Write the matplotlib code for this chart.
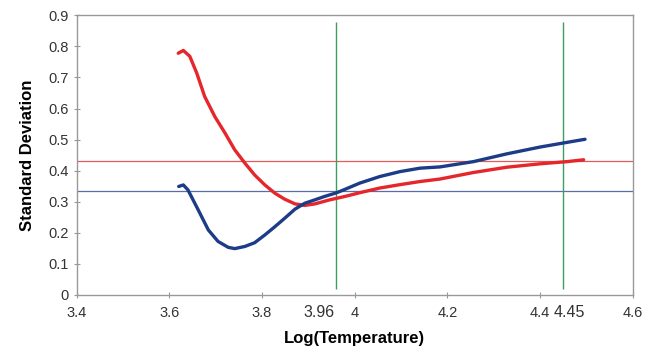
import matplotlib.pyplot as plt

# red curve
red_x = [3.619, 3.630, 3.644, 3.659, 3.676, 3.698, 3.720, 3.741, 3.763, 3.784, 3.806,
         3.828, 3.849, 3.871, 3.892, 3.914, 3.946, 3.979, 4.011, 4.054, 4.098, 4.141,
         4.184, 4.256, 4.328, 4.400, 4.458, 4.494]
red_y = [0.778, 0.787, 0.768, 0.714, 0.639, 0.574, 0.521, 0.467, 0.424, 0.386, 0.354,
         0.327, 0.308, 0.293, 0.288, 0.293, 0.306, 0.317, 0.329, 0.344, 0.355, 0.365,
         0.373, 0.394, 0.411, 0.422, 0.429, 0.435]

# blue curve
blue_x = [3.620, 3.630, 3.640, 3.662, 3.684, 3.705, 3.727, 3.741, 3.763, 3.784, 3.806,
          3.828, 3.849, 3.871, 3.892, 3.914, 3.935, 3.957, 3.968, 4.011, 4.054, 4.098,
          4.141, 4.184, 4.256, 4.328, 4.400, 4.458, 4.497]
blue_y = [0.349, 0.354, 0.338, 0.274, 0.209, 0.172, 0.153, 0.149, 0.156, 0.168, 0.193,
          0.220, 0.247, 0.276, 0.295, 0.306, 0.317, 0.327, 0.333, 0.360, 0.381, 0.397,
          0.408, 0.412, 0.429, 0.454, 0.476, 0.491, 0.501]

red_mean = 0.431
blue_mean = 0.333
markers_x = [3.96, 4.45]
marker_labels = ["3.96", "4.45"]

x_ticks = [3.4, 3.6, 3.8, 4.0, 4.2, 4.4, 4.6]
x_tick_labels = ["3.4", "3.6", "3.8", "4", "4.2", "4.4", "4.6"]
y_ticks = [0, 0.1, 0.2, 0.3, 0.4, 0.5, 0.6, 0.7, 0.8, 0.9]
y_tick_labels = ["0", "0.1", "0.2", "0.3", "0.4", "0.5", "0.6", "0.7", "0.8", "0.9"]


def main():
    plt.rcParams["font.family"] = ["Liberation Sans", "DejaVu Sans"]
    fig = plt.figure(figsize=(6.45, 3.57), dpi=100)
    ax = fig.add_axes([0.119, 0.174, 0.862, 0.783])

    ax.axhline(red_mean, color="#e35a5a", lw=0.9)
    ax.axhline(blue_mean, color="#5b6aa8", lw=0.9)
    for x in markers_x:
        ax.vlines(x, 0.02, 0.88, color="#3f9e5e", lw=1.0)

    ax.plot(red_x, red_y, color="#e5262b", lw=2.4,
            solid_capstyle="round", solid_joinstyle="round")
    ax.plot(blue_x, blue_y, color="#1c3c88", lw=2.4,
            solid_capstyle="round", solid_joinstyle="round")

    ax.set_xlim(3.4, 4.6)
    ax.set_ylim(0, 0.9)
    ax.set_xticks(x_ticks)
    ax.set_xticklabels(x_tick_labels)
    ax.set_yticks(y_ticks)
    ax.set_yticklabels(y_tick_labels)

    # marker labels sit a bit higher, 3.96 to the left of its line, 4.45 to the right
    trans = ax.get_xaxis_transform()
    ax.text(markers_x[0] - 0.003, -0.035, marker_labels[0], transform=trans,
            ha="right", va="top", fontsize=11.5, color="#333333")
    ax.text(markers_x[1] - 0.02, -0.035, marker_labels[1], transform=trans,
            ha="left", va="top", fontsize=11.5, color="#333333")

    ax.tick_params(axis="both", which="major", labelsize=10.5, color="#999999",
                   length=4, direction="inout", labelcolor="#333333")
    ax.tick_params(axis="x", which="major", pad=6)
    for side in ax.spines.values():
        side.set_color("#999999")
        side.set_linewidth(1.0)

    ax.set_xlabel("Log(Temperature)", fontsize=12, fontweight="bold", labelpad=8)
    ax.set_ylabel("Standard Deviation", fontsize=12, fontweight="bold", labelpad=10)

    fig.savefig("out.png", dpi=100)


if __name__ == "__main__":
    main()
